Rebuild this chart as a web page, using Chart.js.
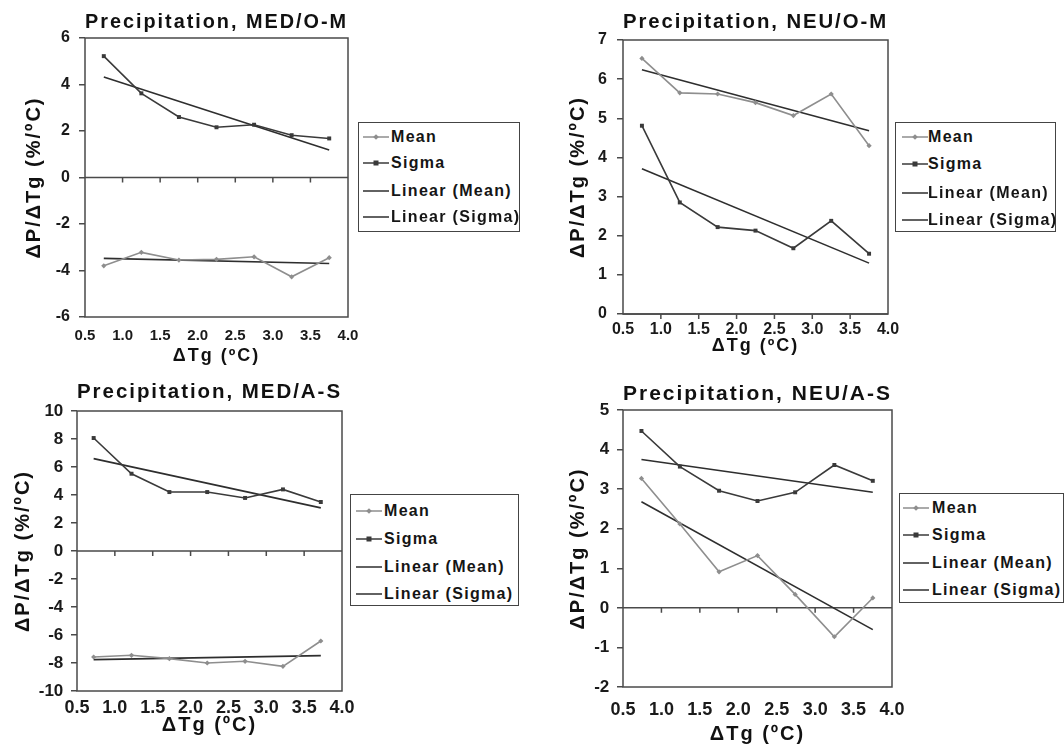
<!DOCTYPE html>
<html>
<head>
<meta charset="utf-8">
<script src="https://cdn.jsdelivr.net/npm/chart.js@4.4.1/dist/chart.umd.min.js"></script>
<style>
  html, body { margin: 0; padding: 0; background: #ffffff; }
  body { width: 1064px; height: 750px; position: relative; overflow: hidden;
         font-family: "Liberation Sans", Arial, sans-serif; }
  canvas { position: absolute; }
  .legend { position: absolute; border: 1.5px solid #444; box-sizing: border-box; background: #fff; z-index: 2; }
  .legend .row { position: absolute; height: 20px; display: flex; align-items: center; white-space: nowrap; }
  .legend svg { display: block; }
  .legend .t { font-weight: bold; font-size: 16px; letter-spacing: 1.3px; color: #151515; }
</style>
</head>
<body>
<script>
// ---------------- data ----------------
const seriesNames = ['Mean', 'Sigma', 'Linear (Mean)', 'Linear (Sigma)'];
const xTickValues = [0.5, 1.0, 1.5, 2.0, 2.5, 3.0, 3.5, 4.0];
const xMarkValues = [1.0, 1.5, 2.0, 2.5, 3.0, 3.5];

const titles = ['Precipitation, MED/O-M', 'Precipitation, NEU/O-M', 'Precipitation, MED/A-S', 'Precipitation, NEU/A-S'];
const yAxisTitle = 'ΔP/ΔTg (%/ºC)';
const xAxisTitle = 'ΔTg (ºC)';

// MED/O-M
const xMedOM = [0.75, 1.25, 1.75, 2.25, 2.75, 3.25, 3.75];
const meanMedOM = [-3.80, -3.22, -3.55, -3.52, -3.41, -4.27, -3.45];
const sigmaMedOM = [5.22, 3.62, 2.60, 2.16, 2.27, 1.82, 1.68];
const trendMeanMedOM = [-3.48, -3.70];
const trendSigmaMedOM = [4.32, 1.18];
const yTicksMedOM = [-6, -4, -2, 0, 2, 4, 6];

// NEU/O-M
const xNeuOM = [0.75, 1.25, 1.75, 2.25, 2.75, 3.25, 3.75];
const meanNeuOM = [6.53, 5.65, 5.62, 5.40, 5.07, 5.62, 4.30];
const sigmaNeuOM = [4.81, 2.85, 2.22, 2.13, 1.68, 2.38, 1.54];
const trendMeanNeuOM = [6.24, 4.68];
const trendSigmaNeuOM = [3.71, 1.30];
const yTicksNeuOM = [0, 1, 2, 3, 4, 5, 6, 7];

// MED/A-S
const xMedAS = [0.72, 1.22, 1.72, 2.22, 2.72, 3.22, 3.72];
const meanMedAS = [-7.57, -7.45, -7.69, -8.00, -7.88, -8.24, -6.43];
const sigmaMedAS = [8.07, 5.52, 4.21, 4.21, 3.79, 4.40, 3.50];
const trendMeanMedAS = [-7.76, -7.47];
const trendSigmaMedAS = [6.60, 3.08];
const yTicksMedAS = [-10, -8, -6, -4, -2, 0, 2, 4, 6, 8, 10];

// NEU/A-S
const xNeuAS = [0.74, 1.24, 1.75, 2.25, 2.74, 3.25, 3.75];
const meanNeuAS = [3.27, 2.12, 0.91, 1.32, 0.34, -0.73, 0.25];
const sigmaNeuAS = [4.47, 3.57, 2.96, 2.70, 2.92, 3.61, 3.21];
const trendMeanNeuAS = [2.68, -0.55];
const trendSigmaNeuAS = [3.75, 2.92];
const yTicksNeuAS = [-2, -1, 0, 1, 2, 3, 4, 5];

// ---------------- layout (positions / styles) ----------------
const FONT = '"Liberation Sans", Arial, sans-serif';
const panels = [
  { title: titles[0], x: xMedOM, mean: meanMedOM, sigma: sigmaMedOM, tMean: trendMeanMedOM, tSigma: trendSigmaMedOM, yTicks: yTicksMedOM,
    canvas: { left: 0, top: 0, width: 365, height: 370 }, padRight: 17, yW: 85, xH: 53,
    titleSize: 20, titlePad: { top: 10, bottom: 4 },
    yTickSize: 16, yTickPad: 9, yTitleSize: 20, yTitlePad: 22,
    xTickSize: 15, xTickPad: 10, xTitleSize: 18, xTitlePad: 3.5,
    legend: { left: 358, top: 122, width: 162, height: 110, rows: [15, 41, 69, 95], sx: 4, tx: 32 } },
  { title: titles[1], x: xNeuOM, mean: meanNeuOM, sigma: sigmaNeuOM, tMean: trendMeanNeuOM, tSigma: trendSigmaNeuOM, yTicks: yTicksNeuOM,
    canvas: { left: 560, top: 0, width: 345, height: 370 }, padRight: 17, yW: 63, xH: 56,
    titleSize: 21, titlePad: { top: 10, bottom: 4.8 },
    yTickSize: 16, yTickPad: 10, yTitleSize: 20, yTitlePad: 6,
    xTickSize: 16, xTickPad: 5.8, xTitleSize: 18, xTitlePad: 12.9,
    legend: { left: 895, top: 122, width: 161, height: 110, rows: [15, 42, 71, 98], sx: 6, tx: 32 } },
  { title: titles[2], x: xMedAS, mean: meanMedAS, sigma: sigmaMedAS, tMean: trendMeanMedAS, tSigma: trendSigmaMedAS, yTicks: yTicksMedAS,
    canvas: { left: 0, top: 370, width: 358, height: 380 }, padRight: 16, yW: 77, xH: 59,
    titleSize: 21, titlePad: { top: 10, bottom: 5.8 },
    yTickSize: 17, yTickPad: 7.7, yTitleSize: 20, yTitlePad: 11,
    xTickSize: 18, xTickPad: 6, xTitleSize: 20, xTitlePad: 13,
    legend: { left: 350, top: 494, width: 169, height: 112, rows: [17.5, 45, 73, 100], sx: 5, tx: 33 } },
  { title: titles[3], x: xNeuAS, mean: meanNeuAS, sigma: sigmaNeuAS, tMean: trendMeanNeuAS, tSigma: trendSigmaNeuAS, yTicks: yTicksNeuAS,
    canvas: { left: 560, top: 370, width: 350, height: 380 }, padRight: 18, yW: 63, xH: 63,
    titleSize: 21, titlePad: { top: 12, bottom: 2.8 },
    yTickSize: 17, yTickPad: 7.7, yTitleSize: 20, yTitlePad: 6,
    xTickSize: 18, xTickPad: 12.6, xTitleSize: 20, xTitlePad: 4,
    legend: { left: 899, top: 493, width: 165, height: 110, rows: [15, 42, 70, 97], sx: 3, tx: 32 } }
];

const COL_MEAN = '#8e8e8e';
const COL_SIGMA = '#3a3a3a';
const COL_TREND = '#2e2e2e';

const framePlugin = {
  id: 'frame',
  beforeDraw(chart) {
    if ('letterSpacing' in chart.ctx) chart.ctx.letterSpacing = '2px';
  },
  beforeDatasetsDraw(chart) {
    const ctx = chart.ctx;
    if ('letterSpacing' in ctx) ctx.letterSpacing = '0px';
    const a = chart.chartArea;
    const xs = chart.scales.x, ys = chart.scales.y;
    ctx.save();
    ctx.strokeStyle = '#4a4a4a';
    ctx.lineWidth = 1.5;
    ctx.strokeRect(a.left, a.top, a.right - a.left, a.bottom - a.top);
    const y0 = ys.getPixelForValue(0);
    ctx.beginPath();
    ctx.moveTo(a.left, y0);
    ctx.lineTo(a.right, y0);
    xMarkValues.forEach(v => {
      const px = xs.getPixelForValue(v);
      ctx.moveTo(px, y0);
      ctx.lineTo(px, y0 + 5);
    });
    ctx.stroke();
    ctx.restore();
  }
};

function pts(xv, yv) { return xv.map((x, i) => ({ x: x, y: yv[i] })); }

panels.forEach(p => {
  const cv = document.createElement('canvas');
  cv.width = p.canvas.width; cv.height = p.canvas.height;
  cv.style.left = p.canvas.left + 'px'; cv.style.top = p.canvas.top + 'px';
  cv.style.width = p.canvas.width + 'px'; cv.style.height = p.canvas.height + 'px';
  document.body.appendChild(cv);

  const first = p.x[0], last = p.x[p.x.length - 1];
  new Chart(cv.getContext('2d'), {
    type: 'scatter',
    data: {
      datasets: [
        { label: seriesNames[0], data: pts(p.x, p.mean), showLine: true, borderColor: COL_MEAN, backgroundColor: COL_MEAN,
          borderWidth: 1.6, pointStyle: 'rectRot', pointRadius: 2.6, pointBorderWidth: 0 },
        { label: seriesNames[1], data: pts(p.x, p.sigma), showLine: true, borderColor: COL_SIGMA, backgroundColor: COL_SIGMA,
          borderWidth: 1.6, pointStyle: 'rect', pointRadius: 2.8, pointBorderWidth: 0 },
        { label: seriesNames[2], data: pts([first, last], p.tMean), showLine: true, borderColor: COL_TREND,
          borderWidth: 1.6, pointRadius: 0 },
        { label: seriesNames[3], data: pts([first, last], p.tSigma), showLine: true, borderColor: COL_TREND,
          borderWidth: 1.6, pointRadius: 0 }
      ]
    },
    options: {
      responsive: false,
      animation: false,
      events: [],
      layout: { padding: { left: 0, top: 0, bottom: 0, right: p.padRight } },
      plugins: {
        legend: { display: false },
        tooltip: { enabled: false },
        title: { display: true, text: p.title, fullSize: false, color: '#111',
                 font: { family: FONT, size: p.titleSize, weight: 'bold' }, padding: p.titlePad }
      },
      scales: {
        x: {
          type: 'linear', min: 0.5, max: 4.0,
          grid: { display: false, drawTicks: false },
          border: { display: false },
          afterBuildTicks: s => { s.ticks = xTickValues.map(v => ({ value: v })); },
          afterFit: s => { s.height = p.xH; s.paddingLeft = 0; s.paddingRight = 0; },
          ticks: { z: 1, color: '#1a1a1a', padding: p.xTickPad, maxRotation: 0, autoSkip: false,
                   font: { family: FONT, size: p.xTickSize, weight: 'bold' },
                   callback: v => Number(v).toFixed(1) },
          title: { display: true, text: xAxisTitle, color: '#111',
                   font: { family: FONT, size: p.xTitleSize, weight: 'bold' }, padding: { top: 0, bottom: p.xTitlePad } }
        },
        y: {
          type: 'linear', min: p.yTicks[0], max: p.yTicks[p.yTicks.length - 1],
          grid: { display: true, drawOnChartArea: false, drawTicks: true, tickLength: 6, color: '#4a4a4a', lineWidth: 1.5 },
          border: { display: false },
          afterBuildTicks: s => { s.ticks = p.yTicks.map(v => ({ value: v })); },
          afterFit: s => { s.width = p.yW; s.paddingTop = 0; s.paddingBottom = 0; },
          ticks: { z: 1, color: '#1a1a1a', padding: p.yTickPad, autoSkip: false,
                   font: { family: FONT, size: p.yTickSize, weight: 'bold' },
                   callback: v => String(v) },
          title: { display: true, text: yAxisTitle, color: '#111',
                   font: { family: FONT, size: p.yTitleSize, weight: 'bold' }, padding: { top: p.yTitlePad, bottom: 0 } }
        }
      }
    },
    plugins: [framePlugin]
  });

  // legend box (HTML text)
  const L = p.legend;
  const box = document.createElement('div');
  box.className = 'legend';
  Object.assign(box.style, { left: L.left + 'px', top: L.top + 'px', width: L.width + 'px', height: L.height + 'px' });
  const samples = [
    '<svg width="26" height="8"><line x1="0" y1="4" x2="26" y2="4" stroke="' + COL_MEAN + '" stroke-width="1.5"/><rect x="11" y="2" width="4" height="4" fill="' + COL_MEAN + '" transform="rotate(45 13 4)"/></svg>',
    '<svg width="26" height="8"><line x1="0" y1="4" x2="26" y2="4" stroke="' + COL_SIGMA + '" stroke-width="1.5"/><rect x="10.5" y="1.5" width="5" height="5" fill="' + COL_SIGMA + '"/></svg>',
    '<svg width="26" height="8"><line x1="0" y1="4" x2="26" y2="4" stroke="' + COL_TREND + '" stroke-width="1.5"/></svg>',
    '<svg width="26" height="8"><line x1="0" y1="4" x2="26" y2="4" stroke="' + COL_TREND + '" stroke-width="1.5"/></svg>'
  ];
  seriesNames.forEach((name, i) => {
    const row = document.createElement('div');
    row.className = 'row';
    row.style.left = L.sx + 'px';
    row.style.top = (L.rows[i] - 10 - 1.5) + 'px';
    row.innerHTML = samples[i] + '<span class="t" style="margin-left:' + (L.tx - L.sx - 26) + 'px">' + name + '</span>';
    box.appendChild(row);
  });
  document.body.appendChild(box);
});
</script>
</body>
</html>
